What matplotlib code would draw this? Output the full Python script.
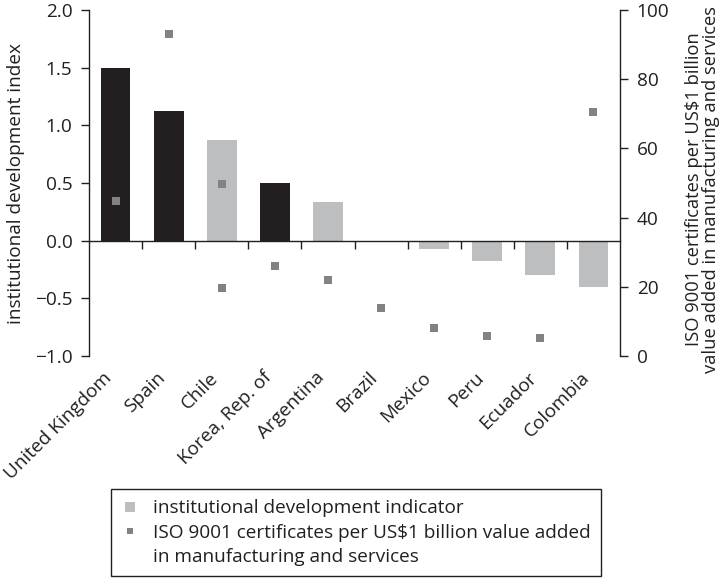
import matplotlib
matplotlib.use("Agg")
import matplotlib.pyplot as plt
import numpy as np
from matplotlib.lines import Line2D

# Institutional development index by country (left axis)
countries = ["United Kingdom", "Spain", "Chile", "Korea, Rep. of", "Argentina",
             "Brazil", "Mexico", "Peru", "Ecuador", "Colombia"]
idi_values = [1.50, 1.12, 0.87, 0.50, 0.335, 0.0, -0.075, -0.18, -0.30, -0.40]
dark_bar_countries = ["United Kingdom", "Spain", "Korea, Rep. of"]

# ISO 9001 certificates per US$1 billion value added (right axis)
iso_countries = ["United Kingdom", "Spain", "Chile", "Chile", "Korea, Rep. of",
                 "Argentina", "Brazil", "Mexico", "Peru", "Ecuador", "Colombia"]
iso_values = [44.7, 93.0, 49.6, 19.6, 25.9, 22.0, 13.8, 8.1, 5.7, 5.3, 70.4]

left_ticks = [-1.0, -0.5, 0.0, 0.5, 1.0, 1.5, 2.0]
right_ticks = [0, 20, 40, 60, 80, 100]

INK = "#231f20"
LIGHT = "#bcbec0"
MARK = "#808285"
FS = 13.7

plt.rcParams["font.family"] = ["Open Sans", "DejaVu Sans"]
plt.rcParams["text.color"] = INK
plt.rcParams["axes.labelcolor"] = INK
plt.rcParams["xtick.color"] = INK
plt.rcParams["ytick.color"] = INK

fig = plt.figure(figsize=(7.28, 5.8), dpi=100)
ax = fig.add_axes([89 / 728, 1 - 356 / 580, 531 / 728, 346 / 580])

x = np.arange(len(countries))
bar_colors = [INK if c in dark_bar_countries else LIGHT for c in countries]
ax.bar(x, idi_values, width=0.56, color=bar_colors, zorder=1)

ax.set_xlim(-0.5, len(countries) - 0.5)
ax.set_ylim(left_ticks[0], left_ticks[-1])
ax.set_yticks(left_ticks)
ax.tick_params(axis="y", direction="out", length=6, width=1, pad=6, labelsize=FS)

# zero line with separators between categories
ax.spines["bottom"].set_position(("data", 0))
ax.spines["top"].set_visible(False)
ax.spines["right"].set_visible(False)
for s in ("left", "bottom"):
    ax.spines[s].set_linewidth(1.0)
    ax.spines[s].set_color(INK)
ax.set_xticks(x[:-1] + 0.5)
ax.tick_params(axis="x", direction="out", length=6, width=1, labelbottom=False)

# category names below the plot area
sec = ax.secondary_xaxis(0)
sec.set_xticks(x, countries, rotation=45, ha="right", va="top")
sec.tick_params(length=0, pad=9, labelsize=FS)
sec.spines["bottom"].set_visible(False)

ax.set_ylabel("institutional development index", fontsize=FS)
ax.yaxis.set_label_coords(-0.1205, 0.5)

# right axis: ISO certificates
ax2 = ax.twinx()
ax2.set_ylim(right_ticks[0], right_ticks[-1])
ax2.set_yticks(right_ticks)
for s in ("left", "top", "bottom"):
    ax2.spines[s].set_visible(False)
ax2.spines["right"].set_linewidth(1.0)
ax2.spines["right"].set_color(INK)
ax2.tick_params(axis="y", direction="out", length=6, width=1, pad=6, labelsize=FS)

iso_x = [countries.index(c) for c in iso_countries]
ax2.scatter(iso_x, iso_values, marker="s", s=33, color=MARK, linewidths=0, zorder=3)

ax2.set_ylabel("ISO 9001 certificates per US$1 billion\nvalue added in manufacturing and services",
               fontsize=13.2, linespacing=0.95)
ax2.yaxis.set_label_coords(1.1224, 0.482)

handles = [
    Line2D([], [], marker="s", linestyle="none", markersize=7.2, color=LIGHT, markeredgewidth=0),
    Line2D([], [], marker="s", linestyle="none", markersize=4.8, color=MARK, markeredgewidth=0),
    Line2D([], [], linestyle="none"),
]
labels = ["institutional development indicator",
          "ISO 9001 certificates per US$1 billion value added",
          "in manufacturing and services"]
leg = fig.legend(handles, labels, loc="upper left", bbox_to_anchor=(111 / 728, 1 - 489 / 580),
                 borderaxespad=0, frameon=True, fancybox=False, framealpha=1,
                 edgecolor=INK, fontsize=FS, handlelength=0.9, handletextpad=0.75,
                 labelspacing=0.33, borderpad=0.55)
leg.get_frame().set_linewidth(1.0)

fig.savefig("out.png", dpi=100)
